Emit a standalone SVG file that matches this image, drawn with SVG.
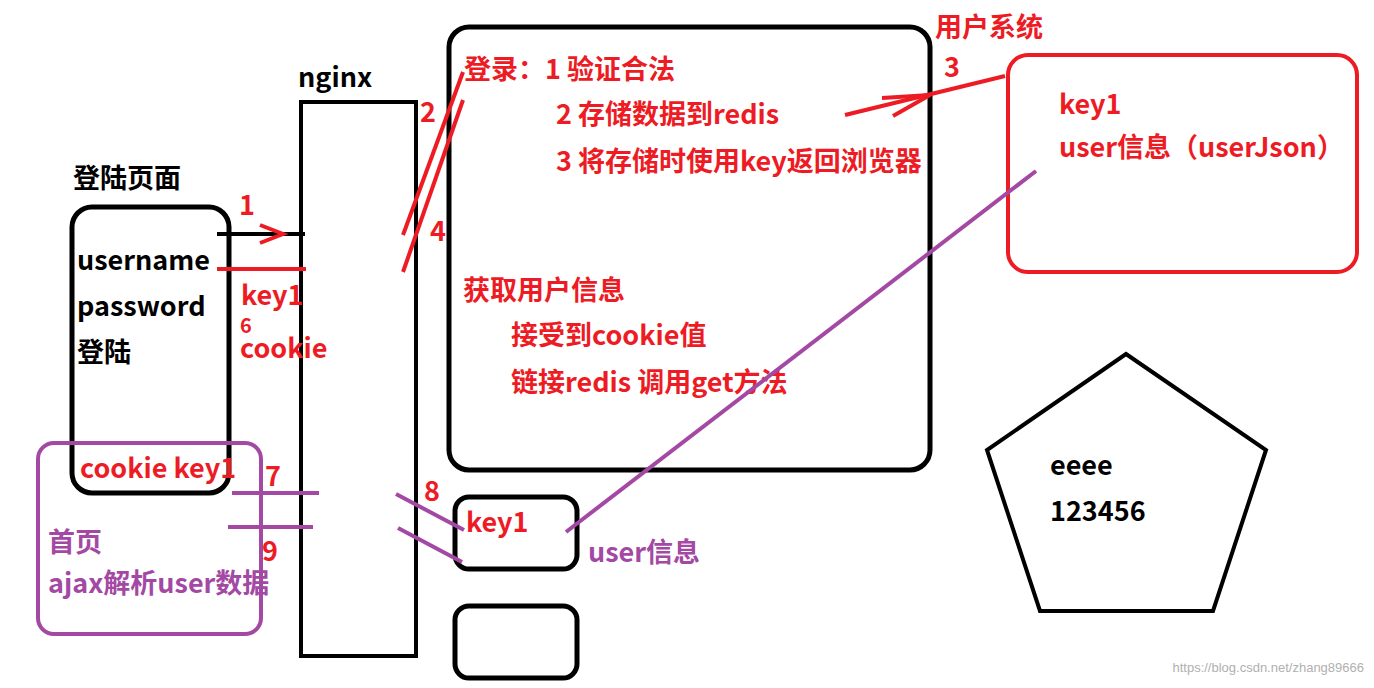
<svg xmlns="http://www.w3.org/2000/svg" width="1374" height="688" viewBox="0 0 1374 688">
<style>
text{font-family:"Noto Sans CJK SC","Noto Sans",sans-serif;font-weight:bold;font-size:27px}
.k{fill:#000}.r{fill:#ed1c24}.p{fill:#a349a4}
.bk{fill:none;stroke:#000;stroke-width:5}
.sr{stroke:#ed1c24;stroke-width:4;fill:none}
.sp{stroke:#a349a4;stroke-width:4;fill:none}
.sk{stroke:#000;stroke-width:4;fill:none}
</style>
<rect width="1374" height="688" fill="#fff"/>
<g id="login">
<rect class="bk" x="72" y="207" width="157" height="286" rx="20"/>
<text class="k" x="73" y="188">登陆页面</text>
<text class="k" x="77" y="270">username</text>
<text class="k" x="77" y="316">password</text>
<text class="k" x="77" y="362">登陆</text>
<text class="r" x="80" y="478">cookie key1</text>
</g>
<g id="home">
<rect class="sp" x="38" y="443" width="223" height="191" rx="16"/>
<text class="p" x="48" y="552">首页</text>
<text class="p" x="48" y="593">ajax解析user数据</text>
</g>
<g id="nginx">
<rect class="sk" x="301" y="102" width="115" height="554"/>
<text class="k" x="298" y="87">nginx</text>
</g>
<g id="server">
<rect class="bk" x="449" y="27" width="481" height="443" rx="20"/>
<text class="r" x="464" y="79">登录：1 验证合法</text>
<text class="r" x="556" y="124">2 存储数据到redis</text>
<text class="r" x="556" y="171">3 将存储时使用key返回浏览器</text>
<text class="r" x="463" y="300">获取用户信息</text>
<text class="r" x="511" y="345">接受到cookie值</text>
<text class="r" x="511" y="392">链接redis 调用get方法</text>
</g>
<g id="usersys">
<rect class="sr" x="1008" y="55" width="349" height="217" rx="20"/>
<text class="r" x="935" y="37">用户系统</text>
<text class="r" x="1059" y="114">key1</text>
<text class="r" x="1059" y="157">user信息（userJson）</text>
</g>
<g id="cache1">
<rect class="bk" x="455" y="497" width="122" height="72" rx="14"/>
<text class="r" x="466" y="532">key1</text>
</g>
<g id="cache2"><rect class="bk" x="455" y="606" width="122" height="72" rx="14"/></g>
<g id="pentagon">
<polygon points="1126,354 1266,450 1213,611 1040,611 987,450" fill="none" stroke="#000" stroke-width="4"/>
<text class="k" x="1050" y="475">eeee</text>
<text class="k" x="1050" y="521">123456</text>
</g>
<g id="connectors">
<line class="sk" x1="217" y1="234" x2="305" y2="234"/>
<polyline class="sr" points="260,225 283,234 260,243"/>
<line class="sr" x1="217" y1="269" x2="306" y2="269"/>
<line class="sr" x1="403" y1="235" x2="463" y2="72"/>
<line class="sr" x1="403" y1="272" x2="463" y2="100"/>
<line class="sr" x1="845" y1="115" x2="1005" y2="76"/>
<polyline class="sr" points="882,98 930,95 893,116"/>
<line class="sp" x1="232" y1="493" x2="319" y2="493"/>
<line class="sp" x1="228" y1="527" x2="313" y2="527"/>
<line class="sp" x1="396" y1="494" x2="464" y2="530"/>
<line class="sp" x1="398" y1="528" x2="462" y2="562"/>
<line class="sp" x1="566" y1="532" x2="1036" y2="171"/>
</g>
<g id="labels">
<text class="r" x="239" y="215">1</text>
<text class="r" x="420" y="122">2</text>
<text class="r" x="944" y="77">3</text>
<text class="r" x="430" y="241">4</text>
<text class="r" x="241" y="305">key1</text>
<text class="r" x="240" y="333" style="font-size:20px">6</text>
<text class="r" x="240" y="358">cookie</text>
<text class="r" x="265" y="486">7</text>
<text class="r" x="424" y="501">8</text>
<text class="r" x="262" y="561">9</text>
<text class="p" x="588" y="562">user信息</text>
</g>
<text x="1364" y="672" text-anchor="end" style="font-family:'Liberation Sans',sans-serif;font-weight:normal;font-size:13px;fill:#b0b0b0">https://blog.csdn.net/zhang89666</text>
</svg>
